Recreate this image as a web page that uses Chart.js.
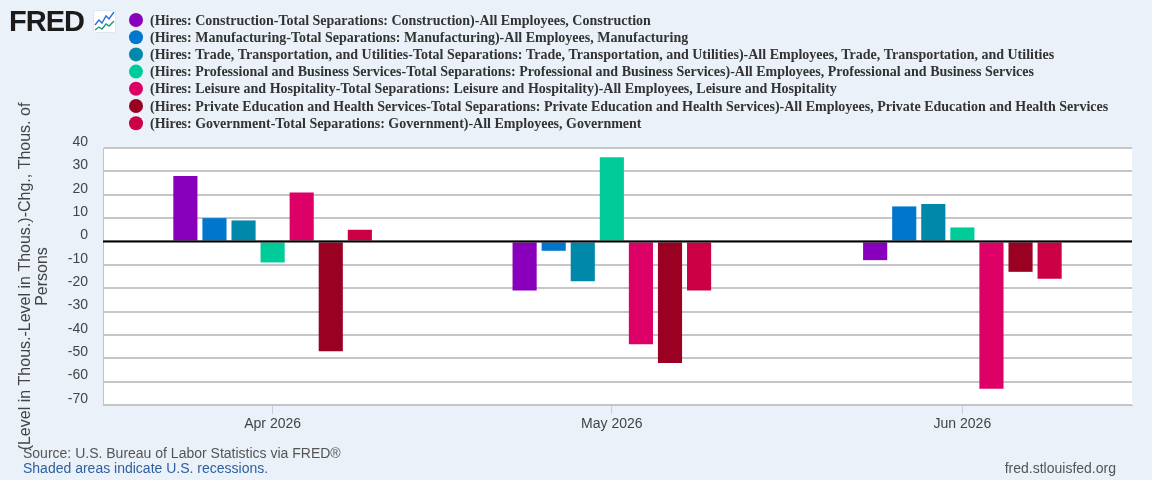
<!DOCTYPE html>
<html><head><meta charset="utf-8">
<script src="https://cdn.jsdelivr.net/npm/chart.js@4.4.1/dist/chart.umd.min.js"></script>
<style>
html,body{margin:0;padding:0;background:#eaf1f9;width:1152px;height:480px;overflow:hidden;}
#wrap{position:relative;width:1152px;height:480px;}
#c{position:absolute;left:0;top:0;}
.logo{position:absolute;left:9px;top:4px;font:bold 29px "Liberation Sans",Arial,sans-serif;color:#1b1b1b;letter-spacing:-1px;line-height:34px;}
.icon{position:absolute;left:93px;top:10px;}
.src{position:absolute;left:23px;top:445px;font:14px "Liberation Sans",Arial,sans-serif;color:#555;white-space:nowrap;}
.rec{position:absolute;left:23px;top:460px;font:14px "Liberation Sans",Arial,sans-serif;color:#2e5f9e;white-space:nowrap;}
.url{position:absolute;right:36px;top:460px;font:14px "Liberation Sans",Arial,sans-serif;color:#555;white-space:nowrap;}
</style></head>
<body><div id="wrap">
<canvas id="c" width="1152" height="480"></canvas>
<div class="logo">FRED</div>
<svg class="icon" width="23" height="23" viewBox="0 0 23 23"><rect x="0.5" y="0.5" width="22" height="22" rx="2" fill="#fff" stroke="#dde6ef"/><polyline points="2,15 6,10 9,13 13,6 16,9 21,2" fill="none" stroke="#2b6fd6" stroke-width="1.4"/><polyline points="2,20 6,17 9,19 13,14 16,16 21,11" fill="none" stroke="#1a9a7a" stroke-width="1.4"/></svg>
<div class="src">Source: U.S. Bureau of Labor Statistics via FRED®</div>
<div class="rec">Shaded areas indicate U.S. recessions.</div>
<div class="url">fred.stlouisfed.org</div>
</div>
<script>
const periods = ['2026-04-01','2026-05-01','2026-06-01'];
const tickLabels = ['Apr 2026','May 2026','Jun 2026'];
const xRange = ['2026-03-17','2026-06-16'];
const seriesNames = [
 '(Hires: Construction-Total Separations: Construction)-All Employees, Construction',
 '(Hires: Manufacturing-Total Separations: Manufacturing)-All Employees, Manufacturing',
 '(Hires: Trade, Transportation, and Utilities-Total Separations: Trade, Transportation, and Utilities)-All Employees, Trade, Transportation, and Utilities',
 '(Hires: Professional and Business Services-Total Separations: Professional and Business Services)-All Employees, Professional and Business Services',
 '(Hires: Leisure and Hospitality-Total Separations: Leisure and Hospitality)-All Employees, Leisure and Hospitality',
 '(Hires: Private Education and Health Services-Total Separations: Private Education and Health Services)-All Employees, Private Education and Health Services',
 '(Hires: Government-Total Separations: Government)-All Employees, Government'
];
const seriesColors = ['#8800bb','#0077cc','#0088aa','#00cc99','#dd0066','#990022','#cc0044'];
const construction = [28, -21, -8];
const manufacturing = [10, -4, 15];
const trade = [9, -17, 16];
const professional = [-9, 36, 6];
const leisure = [21, -44, -63];
const education = [-47, -52, -13];
const government = [5, -21, -16];
const seriesValues = [construction, manufacturing, trade, professional, leisure, education, government];
const yTitle = ['(Level in Thous.-Level in Thous.)-Chg., Thous. of', 'Persons'];
const yMin = -70, yMax = 40, yStep = 10;

const DAY = 86400000;
const base = Date.parse(periods[0]);
const toDay = s => Math.round((Date.parse(s) - base) / DAY);
const xs = periods.map(toDay);

const datasets = seriesNames.map((name, i) => ({
  label: name,
  data: seriesValues[i].map((v, j) => ({x: xs[j], y: v})),
  backgroundColor: seriesColors[i],
  borderWidth: 0,
  categoryPercentage: 0.6,
  barPercentage: 0.83
}));

const decor = {
  id: 'decor',
  beforeDraw(chart) {
    const {ctx, chartArea: a} = chart;
    ctx.save();
    ctx.fillStyle = '#ffffff';
    ctx.fillRect(a.left, a.top, a.right - a.left, a.bottom - a.top);
    ctx.restore();
  },
  afterDatasetsDraw(chart) {
    const {ctx, chartArea: a, scales} = chart;
    const y0 = scales.y.getPixelForValue(0);
    ctx.save();
    ctx.strokeStyle = '#000';
    ctx.lineWidth = 2;
    ctx.beginPath();
    ctx.moveTo(a.left, y0);
    ctx.lineTo(a.right, y0);
    ctx.stroke();
    ctx.restore();
  },
  afterDraw(chart) {
    const {ctx, chartArea: a} = chart;
    ctx.save();
    // legend
    ctx.font = 'bold 14px "Liberation Serif", "Times New Roman", serif';
    ctx.textBaseline = 'middle';
    ctx.textAlign = 'left';
    chart.data.datasets.forEach((ds, i) => {
      const y = 20 + i * 17.2;
      ctx.fillStyle = ds.backgroundColor;
      ctx.beginPath();
      ctx.arc(136, y, 7, 0, Math.PI * 2);
      ctx.fill();
      ctx.fillStyle = '#333';
      ctx.fillText(ds.label, 150, y + 1);
    });
    // y title
    ctx.font = '16px "Liberation Sans", Arial, sans-serif';
    ctx.fillStyle = '#444';
    ctx.textAlign = 'center';
    ctx.translate(26, (a.top + a.bottom) / 2);
    ctx.rotate(-Math.PI / 2);
    yTitle.forEach((t, i) => ctx.fillText(t, 0, i * 17));
    ctx.restore();
  }
};

new Chart(document.getElementById('c'), {
  type: 'bar',
  data: {datasets},
  plugins: [decor],
  options: {
    responsive: false,
    animation: false,
    events: [],
    layout: {padding: {top: 148, right: 20, left: 0, bottom: 0}},
    plugins: {legend: {display: false}, tooltip: {enabled: false}},
    scales: {
      x: {
        type: 'linear',
        offset: false,
        min: toDay(xRange[0]),
        max: toDay(xRange[1]),
        afterBuildTicks: s => { s.ticks = xs.map(v => ({value: v})); },
        afterFit: s => { s.height = 75; },
        ticks: {
          callback: (v) => { const k = xs.indexOf(v); return k >= 0 ? tickLabels[k] : ''; },
          font: {family: '"Liberation Sans", Arial, sans-serif', size: 14},
          color: '#444', padding: 2, maxRotation: 0, autoSkip: false
        },
        grid: {offset: false, drawOnChartArea: false, drawTicks: true, tickLength: 9, color: '#c5d0dc', lineWidth: 1},
        border: {display: true, color: '#c3c3c3', width: 1}
      },
      y: {
        min: yMin, max: yMax,
        afterFit: s => { s.width = 103; },
        ticks: {
          stepSize: yStep,
          font: {family: '"Liberation Sans", Arial, sans-serif', size: 14},
          color: '#444', padding: 15, labelOffset: -6
        },
        grid: {drawTicks: false, color: '#c6c6c6', lineWidth: 2},
        border: {display: true, color: '#c3c3c3', width: 1}
      }
    }
  }
});
</script>
</body></html>
